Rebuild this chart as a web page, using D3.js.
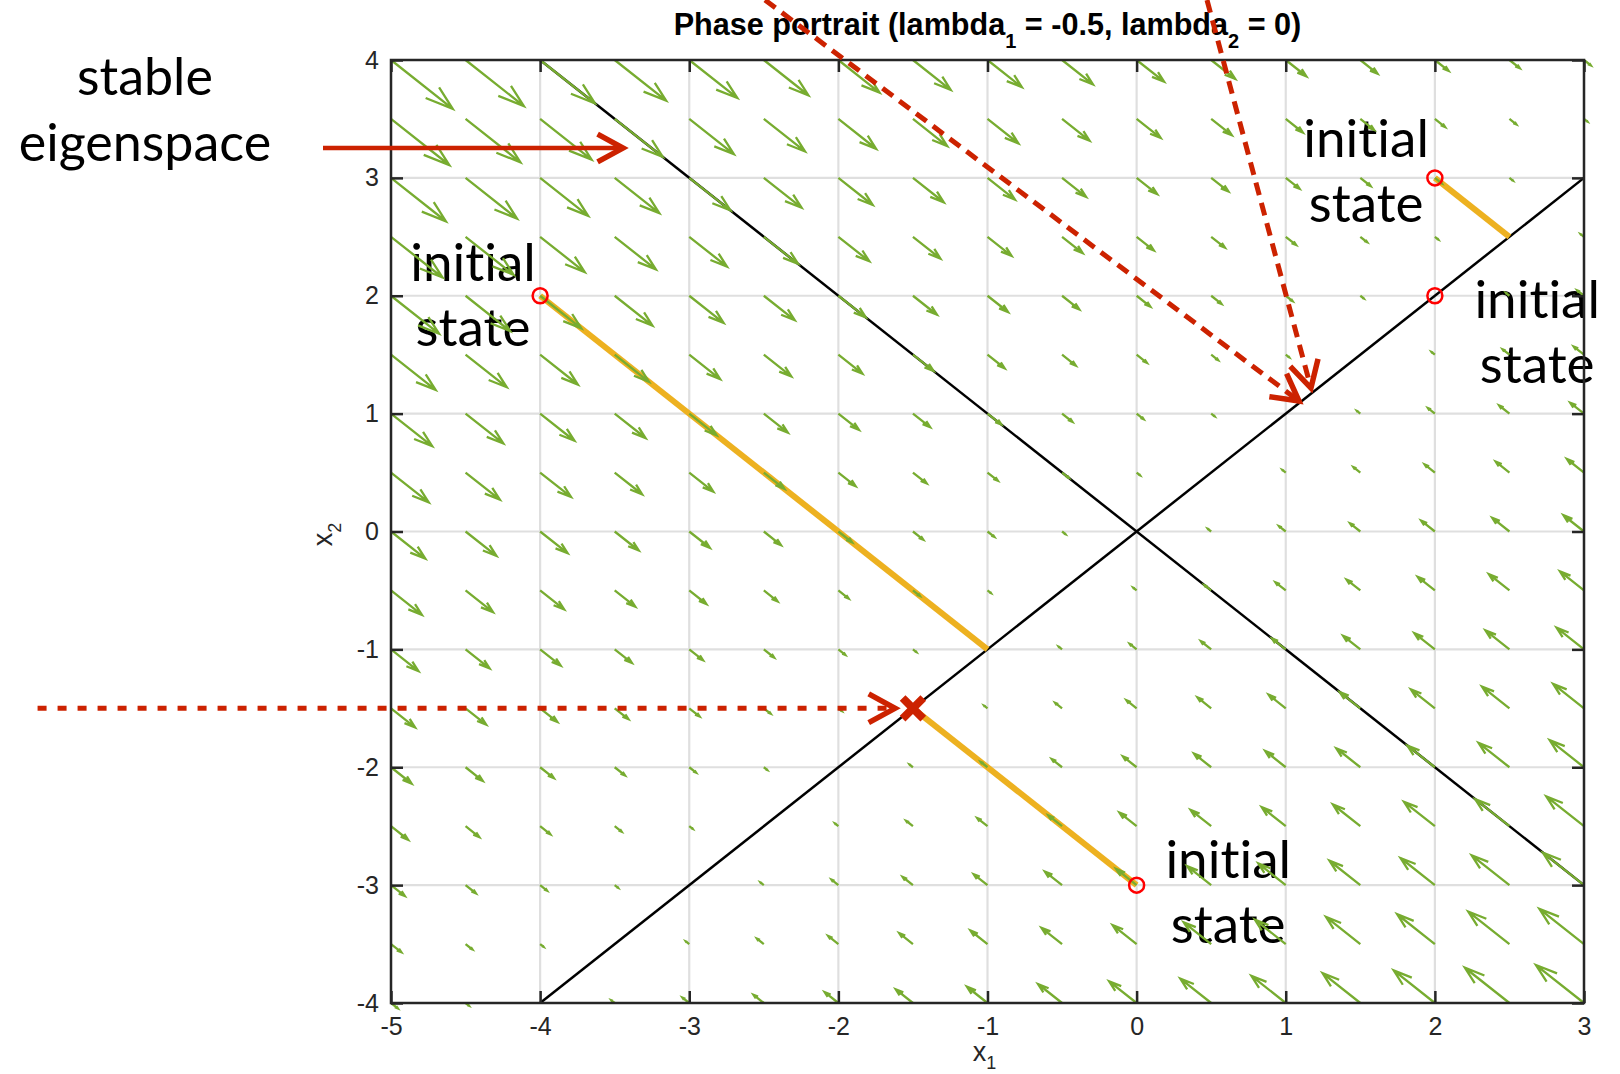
<!DOCTYPE html>
<html>
<head>
<meta charset="utf-8">
<script src="https://cdn.jsdelivr.net/npm/d3@7"></script>
<style>
  body { margin: 0; background: #fff; }
  svg { display: block; }
</style>
</head>
<body>
<div id="chart"></div>
<script>
// axis ticks
const xTicks = [-5, -4, -3, -2, -1, 0, 1, 2, 3];
const yTicks = [-4, -3, -2, -1, 0, 1, 2, 3, 4];

// quiver grid (meshgrid -5:0.5:3, -4:0.5:4)
const gridX1 = [-5, -4.5, -4, -3.5, -3, -2.5, -2, -1.5, -1, -0.5, 0, 0.5, 1, 1.5, 2, 2.5, 3];
const gridX2 = [-4, -3.5, -3, -2.5, -2, -1.5, -1, -0.5, 0, 0.5, 1, 1.5, 2, 2.5, 3, 3.5, 4];

// system: eigenvalues and eigenvectors
const lambdas = [-0.5, 0];
const eigvecs = [[1, -1], [1, 1]];

// eigenspace lines drawn in the plot
const stableLine = [[-4, 4], [3, -3]];
const centerLine = [[-4, -4], [3, 3]];

// trajectories
const initialStates = [[-4, 2], [0, -3], [2, 3], [2, 2]];
const finalStates = [[-1, -1], [-1.5, -1.5], [2.5, 2.5], [2, 2]];
const markedState = [-1.5, -1.5];

// annotations (data coordinates)
const stateLabelAt = [[-4.45, 2.126], [1.539, 3.177], [2.686, 1.812], [0.614, -2.938]];
const eigLabelAt = [-6.65, 3.703];
const solidArrow = [[-5.456, 3.253], [-3.444, 3.253]];
const dashedArrows = [
    [[-7.37, -1.5], [-1.62, -1.5]],
    [[-2.492, 4.509], [1.089, 1.107]],
    [[0.472, 4.509], [1.169, 1.217]]
];

const W = 1620, H = 1074;
const margin = {top: 60, right: 36, bottom: 71, left: 391};
const width = W - margin.left - margin.right;
const height = H - margin.top - margin.bottom;

const x = d3.scaleLinear().domain([-5, 3]).range([margin.left, margin.left + width]);
const y = d3.scaleLinear().domain([-4, 4]).range([margin.top + height, margin.top]);

const svg = d3.select("#chart").append("svg")
    .attr("width", W)
    .attr("height", H)
    .style("background", "#fff");

const axisColor = "#262626";
const red = "#cc2200";

// grid
const grid = svg.append("g").attr("class", "grid");
grid.selectAll(".gx").data(xTicks).join("line")
    .attr("x1", d => x(d)).attr("x2", d => x(d))
    .attr("y1", y(-4)).attr("y2", y(4))
    .attr("stroke", "#dfdfdf").attr("stroke-width", 2.2);
grid.selectAll(".gy").data(yTicks).join("line")
    .attr("y1", d => y(d)).attr("y2", d => y(d))
    .attr("x1", x(-5)).attr("x2", x(3))
    .attr("stroke", "#dfdfdf").attr("stroke-width", 2.2);

// eigenspace lines
const line = d3.line().x(d => x(d[0])).y(d => y(d[1]));
svg.append("g").selectAll("path").data([stableLine, centerLine]).join("path")
    .attr("d", line)
    .attr("fill", "none")
    .attr("stroke", "#000")
    .attr("stroke-width", 2.5);

// trajectories
const traj = initialStates.map((s, i) => [s, finalStates[i]]);
svg.append("g").selectAll("path").data(traj).join("path")
    .attr("d", line)
    .attr("fill", "none")
    .attr("stroke", "#EDB120")
    .attr("stroke-width", 6);

// text annotations
const annoFont = "Lato, 'Open Sans', sans-serif";
function twoLines(pos, l1, l2, gap, size) {
    const t = svg.append("text")
        .attr("x", x(pos[0]))
        .attr("y", y(pos[1]))
        .attr("text-anchor", "middle")
        .attr("font-family", annoFont)
        .attr("font-size", size)
        .style("font-variant-ligatures", "none")
        .attr("fill", "#000");
    t.append("tspan").attr("x", x(pos[0])).text(l1);
    t.append("tspan").attr("x", x(pos[0])).attr("dy", gap).text(l2);
}
stateLabelAt.forEach(p => twoLines(p, "initial", "state", 65, 53));
twoLines(eigLabelAt, "stable", "eigenspace", 66, 52);

// quiver field
const A = [[0, 0], [0, 0]];
lambdas.forEach((lam, k) => {
    const v = eigvecs[k];
    const n = v[0] * v[0] + v[1] * v[1];
    for (let i = 0; i < 2; i++)
        for (let j = 0; j < 2; j++)
            A[i][j] += lam * v[i] * v[j] / n;
});
const quiverScale = 0.184;
const alpha = 0.33, beta = 0.33;
const arrows = [];
gridX2.forEach(x2 => gridX1.forEach(x1 => {
    const u = (A[0][0] * x1 + A[0][1] * x2) * quiverScale;
    const v = (A[1][0] * x1 + A[1][1] * x2) * quiverScale;
    arrows.push({x1, x2, u, v});
}));
function quiverPath(d) {
    const tx = d.x1 + d.u, ty = d.x2 + d.v;
    const h1 = [tx - alpha * (d.u + beta * d.v), ty - alpha * (d.v - beta * d.u)];
    const h2 = [tx - alpha * (d.u - beta * d.v), ty - alpha * (d.v + beta * d.u)];
    return `M${x(d.x1)},${y(d.x2)}L${x(tx)},${y(ty)}` +
        `M${x(h1[0])},${y(h1[1])}L${x(tx)},${y(ty)}L${x(h2[0])},${y(h2[1])}`;
}
svg.append("g").attr("class", "quiver")
    .selectAll("path").data(arrows).join("path")
    .attr("d", quiverPath)
    .attr("fill", "none")
    .attr("stroke", "#77AC30")
    .attr("stroke-width", 2.3)
    .attr("stroke-linejoin", "miter");

// initial state markers
svg.append("g").selectAll("circle").data(initialStates).join("circle")
    .attr("cx", d => x(d[0]))
    .attr("cy", d => y(d[1]))
    .attr("r", 7.5)
    .attr("fill", "none")
    .attr("stroke", "#ff0000")
    .attr("stroke-width", 2.5);

// axes: ticks inside on all four sides
const tick = 12;
const fontTick = "'Liberation Sans', Arial, Helvetica, sans-serif";
const fmt = d => String(d);
const gB = svg.append("g")
    .attr("transform", `translate(0,${y(-4)})`)
    .call(d3.axisBottom(x).tickValues(xTicks).tickFormat(fmt).tickSizeInner(-tick).tickSizeOuter(0).tickPadding(14));
const gL = svg.append("g")
    .attr("transform", `translate(${x(-5)},0)`)
    .call(d3.axisLeft(y).tickValues(yTicks).tickFormat(fmt).tickSizeInner(-tick).tickSizeOuter(0).tickPadding(12));
const gT = svg.append("g")
    .attr("transform", `translate(0,${y(4)})`)
    .call(d3.axisTop(x).tickValues(xTicks).tickSizeInner(-tick).tickSizeOuter(0).tickFormat(""));
const gR = svg.append("g")
    .attr("transform", `translate(${x(3)},0)`)
    .call(d3.axisRight(y).tickValues(yTicks).tickSizeInner(-tick).tickSizeOuter(0).tickFormat(""));
[gB, gL, gT, gR].forEach(g => {
    g.select(".domain").remove();
    g.selectAll(".tick line").attr("stroke", axisColor).attr("stroke-width", 2.5);
    g.selectAll(".tick text")
        .attr("fill", axisColor)
        .attr("font-family", fontTick)
        .attr("font-size", 25);
});
svg.append("rect")
    .attr("x", x(-5)).attr("y", y(4))
    .attr("width", width).attr("height", height)
    .attr("fill", "none")
    .attr("stroke", axisColor)
    .attr("stroke-width", 2.5);

// axis labels
const xl = svg.append("text")
    .attr("x", (x(-5) + x(3)) / 2 - 3)
    .attr("y", 1061)
    .attr("text-anchor", "middle")
    .attr("font-family", fontTick)
    .attr("font-size", 27)
    .attr("fill", axisColor);
xl.append("tspan").text("x");
xl.append("tspan").attr("font-size", 18).attr("dy", 8).text("1");

const yl = svg.append("text")
    .attr("transform", `translate(332,${(y(-4) + y(4)) / 2 + 3}) rotate(-90)`)
    .attr("text-anchor", "middle")
    .attr("font-family", fontTick)
    .attr("font-size", 27)
    .attr("fill", axisColor);
yl.append("tspan").text("x");
yl.append("tspan").attr("font-size", 18).attr("dy", 9).text("2");

// title
const title = svg.append("text")
    .attr("x", (x(-5) + x(3)) / 2)
    .attr("y", 35)
    .attr("text-anchor", "middle")
    .attr("font-family", fontTick)
    .attr("font-weight", "bold")
    .attr("font-size", 30.6)
    .attr("fill", "#000");
title.append("tspan").text("Phase portrait (lambda");
title.append("tspan").attr("font-size", 20).attr("dy", 13).text("1");
title.append("tspan").attr("dy", -13).text(" = -0.5, lambda");
title.append("tspan").attr("font-size", 20).attr("dy", 13).text("2");
title.append("tspan").attr("dy", -13).text(" = 0)");

// red overlay arrows
function chevron(g, from, to, len, w) {
    const x0 = x(from[0]), y0 = y(from[1]), x1 = x(to[0]), y1 = y(to[1]);
    const ang = Math.atan2(y1 - y0, x1 - x0);
    const a1 = ang + Math.PI - 0.5, a2 = ang + Math.PI + 0.5;
    g.append("path")
        .attr("d", `M${x1 + len * Math.cos(a1)},${y1 + len * Math.sin(a1)}L${x1},${y1}L${x1 + len * Math.cos(a2)},${y1 + len * Math.sin(a2)}`)
        .attr("fill", "none")
        .attr("stroke", red)
        .attr("stroke-width", w)
        .attr("stroke-linejoin", "miter");
}
const over = svg.append("g").attr("class", "overlay");
over.append("path")
    .attr("d", line(solidArrow))
    .attr("stroke", red).attr("stroke-width", 4.5).attr("fill", "none");
chevron(over, solidArrow[0], solidArrow[1], 29, 5.5);

dashedArrows.forEach((a, i) => {
    over.append("path")
        .attr("d", line(a))
        .attr("stroke", red)
        .attr("stroke-width", 5)
        .attr("stroke-dasharray", i === 0 ? "9 11" : "13 8")
        .attr("fill", "none");
    chevron(over, a[0], a[1], 30, 5.5);
});

// marked final state
const mx = x(markedState[0]), my = y(markedState[1]), ms = 7.5;
over.append("path")
    .attr("d", `M${mx - ms},${my - ms}L${mx + ms},${my + ms}M${mx - ms},${my + ms}L${mx + ms},${my - ms}`)
    .attr("stroke", red)
    .attr("stroke-width", 8)
    .attr("stroke-linecap", "square");
</script>
</body>
</html>
